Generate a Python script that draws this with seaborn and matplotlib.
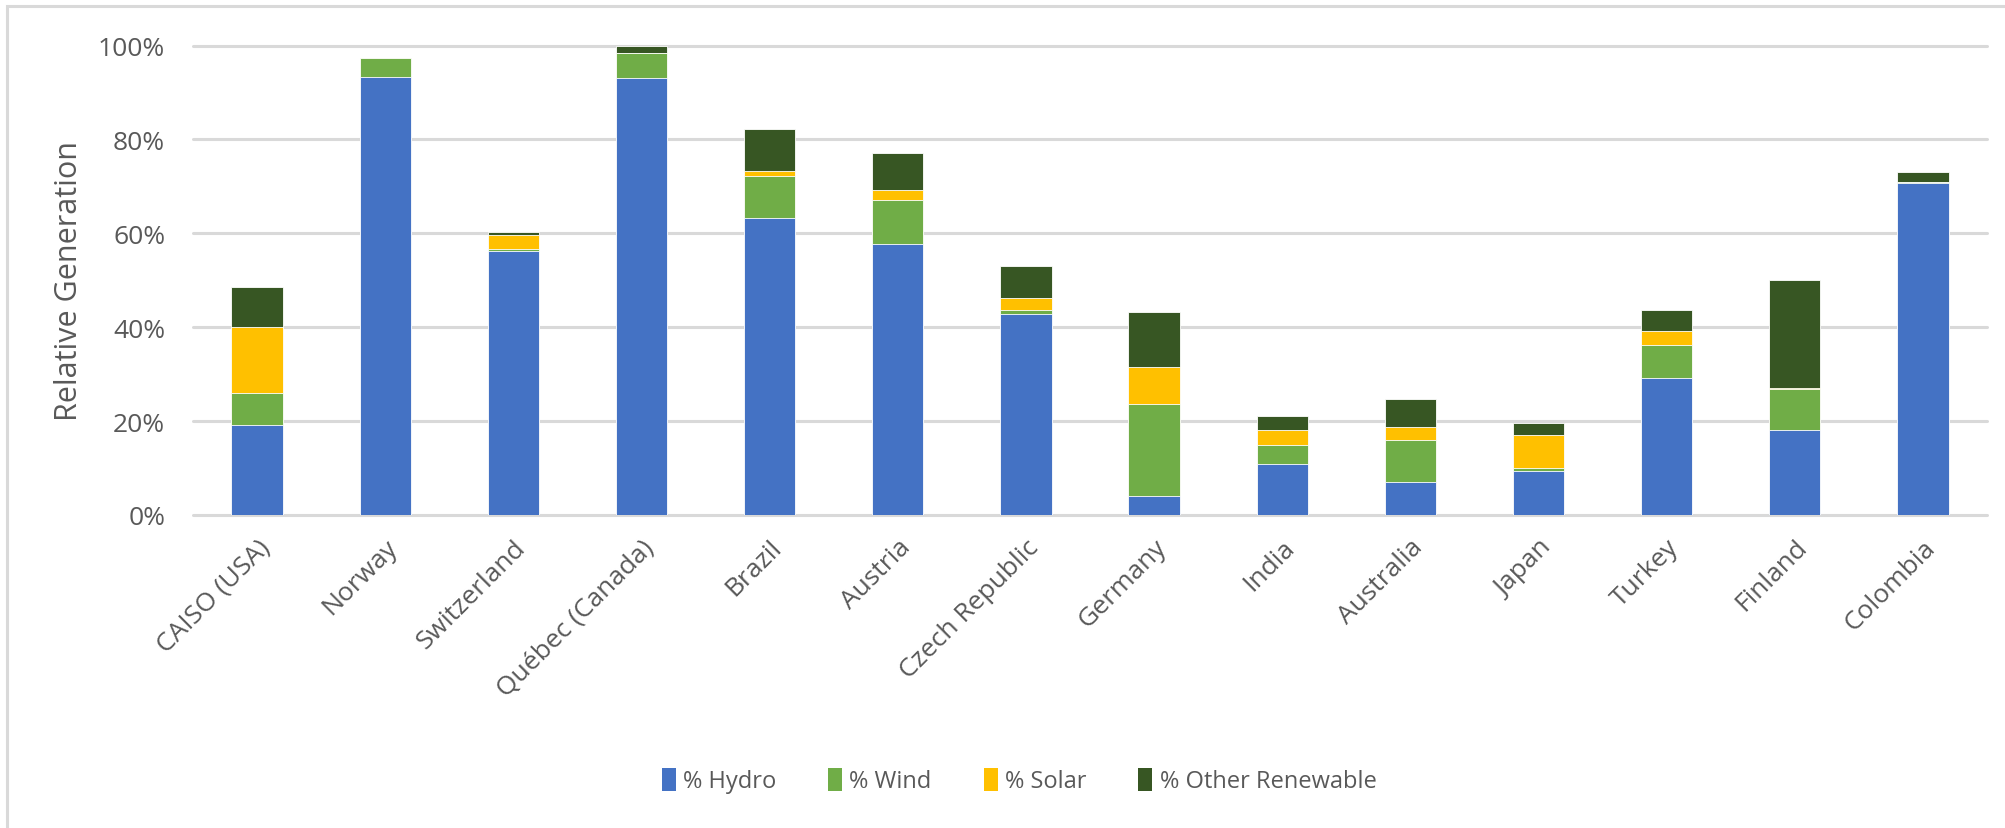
import numpy as np
import pandas as pd
import matplotlib
matplotlib.use("Agg")
import matplotlib.pyplot as plt
import matplotlib.patches as mpatches
from matplotlib.ticker import PercentFormatter
import seaborn as sns

countries = ["CAISO (USA)", "Norway", "Switzerland", "Québec (Canada)", "Brazil",
             "Austria", "Czech Republic", "Germany", "India", "Australia",
             "Japan", "Turkey", "Finland", "Colombia"]

hydro = [19.2, 93.3, 56.3, 93.0, 63.3, 57.8, 42.9, 4.1, 10.8, 7.1, 9.3, 29.2, 18.2, 70.7]
wind = [6.7, 4.1, 0.3, 5.5, 8.9, 9.2, 0.8, 19.6, 4.0, 8.8, 0.7, 7.1, 8.6, 0.3]
solar = [14.1, 0.0, 3.0, 0.0, 1.1, 2.2, 2.6, 7.8, 3.4, 2.9, 7.1, 2.9, 0.3, 0.0]
other = [8.5, 0.0, 0.7, 1.5, 8.9, 7.8, 6.7, 11.8, 2.9, 6.0, 2.5, 4.5, 22.9, 2.0]

series_names = ["% Hydro", "% Wind", "% Solar", "% Other Renewable"]
series_colors = ["#4472C4", "#70AD47", "#FFC000", "#375623"]

sns.set_theme(style="white")
plt.rcParams["font.family"] = ["Open Sans", "DejaVu Sans"]
text_color = "#595959"
grid_color = "#D9D9D9"

df = pd.DataFrame({"country": countries, "% Hydro": hydro, "% Wind": wind,
                   "% Solar": solar, "% Other Renewable": other})
# cumulative stack tops, drawn from the tallest layer down
stack = df[series_names].cumsum(axis=1) / 100.0

fig = plt.figure(figsize=(20.06, 8.29), dpi=100)
ax = fig.add_axes([0.0962, 0.3776, 0.8943, 0.5663])

for name, color in reversed(list(zip(series_names, series_colors))):
    sns.barplot(x=df["country"], y=stack[name], color=color, ax=ax,
                width=0.40, edgecolor="white", linewidth=0.6,
                saturation=1, errorbar=None, zorder=3)

ax.set_ylim(0, 1.0)
ax.set_xlim(-0.5, len(countries) - 0.5)
ax.set_yticks(np.arange(0, 1.01, 0.2))
ax.yaxis.set_major_formatter(PercentFormatter(1.0, decimals=0))
ax.grid(axis="y", color=grid_color, linewidth=2.2, zorder=0)
ax.set_axisbelow(True)
for gl in ax.get_ygridlines():
    gl.set_clip_on(False)
for s in ax.spines.values():
    s.set_visible(False)

ax.tick_params(axis="y", length=0, pad=20, labelsize=19, labelcolor=text_color)
ax.tick_params(axis="x", length=0, pad=14, labelsize=19, labelcolor=text_color)
ax.set_xticks(range(len(countries)))
ax.set_xticklabels(countries, rotation=45, ha="right", rotation_mode="anchor")
ax.set_xlabel("")
ax.set_ylabel("Relative Generation", fontsize=22, color=text_color, labelpad=10)

handles = [mpatches.Patch(facecolor=c, edgecolor="none", label=n)
           for n, c in zip(series_names, series_colors)]
fig.legend(handles=handles, loc="center", bbox_to_anchor=(0.508, 0.057),
           ncol=4, frameon=False, fontsize=17, labelcolor=text_color,
           handlelength=0.6, handleheight=1.1, handletextpad=0.3,
           columnspacing=2.2)

# chart-area frame
frame = mpatches.Rectangle((7 / 2006, -0.2), 1.2, 1.2 - 6.5 / 829,
                           transform=fig.transFigure, fill=False,
                           edgecolor=grid_color, linewidth=2.2)
fig.patches.append(frame)

fig.savefig("out.png", dpi=100, facecolor="white")
